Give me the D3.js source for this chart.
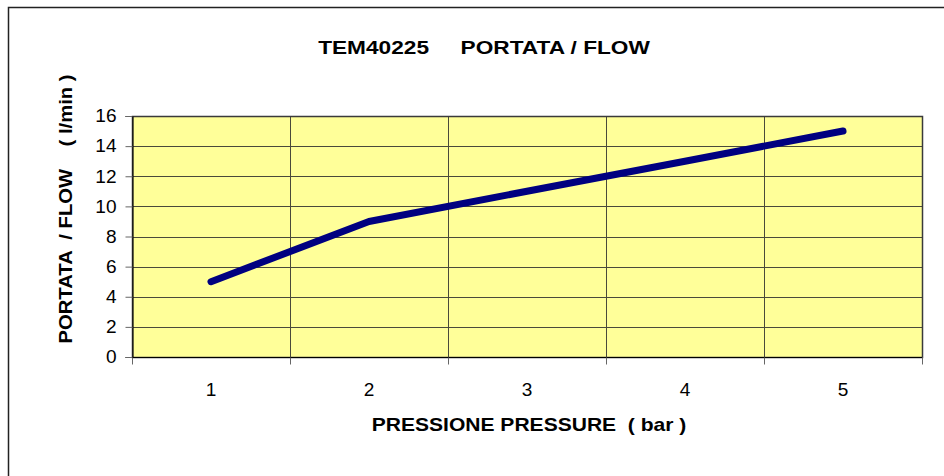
<!DOCTYPE html>
<html>
<head>
  <meta charset="utf-8">
  <title>TEM40225 PORTATA / FLOW</title>
  <script src="https://d3js.org/d3.v7.min.js"></script>
  <style>
    body { margin: 0; background: #fff; }
    svg text { font-family: Arial, "Liberation Sans", sans-serif; fill: #000; }
  </style>
</head>
<body>
<div id="chart"></div>
<script>
  // data
  var pressure = ["1", "2", "3", "4", "5"];
  var flow = [5, 9, 11, 13, 15];
  var yTicks = [0, 2, 4, 6, 8, 10, 12, 14, 16];

  var width = 944, height = 476;
  var plot = { left: 132, top: 116, right: 922, bottom: 357 };

  var svg = d3.select("#chart").append("svg")
    .attr("width", width)
    .attr("height", height);

  // outer frame (runs off the right and bottom edges)
  svg.append("rect")
    .attr("x", 8.5).attr("y", 7.5)
    .attr("width", 960).attr("height", 480)
    .attr("fill", "none")
    .attr("stroke", "#222")
    .attr("stroke-width", 1.5);

  var x = d3.scaleBand()
    .domain(pressure)
    .range([plot.left, plot.right]);

  var y = d3.scaleLinear()
    .domain([0, 16])
    .range([plot.bottom, plot.top]);

  // plot background
  svg.append("rect")
    .attr("x", plot.left).attr("y", plot.top)
    .attr("width", plot.right - plot.left)
    .attr("height", plot.bottom - plot.top)
    .attr("fill", "#ffff99");

  // horizontal gridlines
  svg.append("g")
    .selectAll("line")
    .data(yTicks.filter(d => d > 0))
    .enter().append("line")
    .attr("x1", plot.left).attr("x2", plot.right)
    .attr("y1", d => Math.round(y(d)) + 0.5)
    .attr("y2", d => Math.round(y(d)) + 0.5)
    .attr("stroke", "#4a4a3a")
    .attr("stroke-width", 1);

  // vertical gridlines at category boundaries
  svg.append("g")
    .selectAll("line")
    .data(pressure.slice(1))
    .enter().append("line")
    .attr("x1", d => Math.round(x(d)) + 0.5)
    .attr("x2", d => Math.round(x(d)) + 0.5)
    .attr("y1", plot.top).attr("y2", plot.bottom)
    .attr("stroke", "#4a4a3a")
    .attr("stroke-width", 1);

  // plot border
  svg.append("rect")
    .attr("x", plot.left + 0.5).attr("y", plot.top + 0.5)
    .attr("width", plot.right - plot.left)
    .attr("height", plot.bottom - plot.top)
    .attr("fill", "none")
    .attr("stroke", "#3a3a3a")
    .attr("stroke-width", 1.5);

  // y axis
  var yAxis = svg.append("g")
    .attr("transform", "translate(" + (plot.left + 0.5) + ",0)")
    .call(d3.axisLeft(y).tickValues(yTicks).tickSize(7).tickPadding(8));
  yAxis.select(".domain").attr("stroke", "#000");
  yAxis.selectAll(".tick line").attr("stroke", "#666");
  yAxis.selectAll(".tick text")
    .attr("x", 0)
    .attr("transform", "translate(-16,0) scale(1.06,1)")
    .style("font-size", "18px");

  // x axis, ticks at band edges
  var xAxis = svg.append("g")
    .attr("transform", "translate(0," + (plot.bottom + 0.5) + ")");
  xAxis.append("line")
    .attr("x1", plot.left).attr("x2", plot.right)
    .attr("stroke", "#000");
  xAxis.selectAll(".edge")
    .data(pressure.concat(["end"]))
    .enter().append("line")
    .attr("class", "edge")
    .attr("x1", (d, i) => Math.round(i < pressure.length ? x(d) : x.range()[1]) + 0.5)
    .attr("x2", (d, i) => Math.round(i < pressure.length ? x(d) : x.range()[1]) + 0.5)
    .attr("y1", 0).attr("y2", 7)
    .attr("stroke", "#666");
  xAxis.selectAll("text")
    .data(pressure)
    .enter().append("text")
    .attr("transform", d => "translate(" + (x(d) + x.bandwidth() / 2) + ",38) scale(1.06,1)")
    .attr("text-anchor", "middle")
    .style("font-size", "18px")
    .text(d => d);

  // flow line
  var line = d3.line()
    .x((d, i) => x(pressure[i]) + x.bandwidth() / 2)
    .y(d => y(d));

  svg.append("path")
    .datum(flow)
    .attr("d", line)
    .attr("fill", "none")
    .attr("stroke", "#000080")
    .attr("stroke-width", 7)
    .attr("stroke-linecap", "round")
    .attr("stroke-linejoin", "round");

  // titles
  svg.append("text")
    .attr("transform", "translate(484,54) scale(1.26,1)")
    .attr("text-anchor", "middle")
    .style("font-size", "18px")
    .style("font-weight", "bold")
    .style("white-space", "pre")
    .text("TEM40225     PORTATA / FLOW");

  svg.append("text")
    .attr("transform", "translate(529,431) scale(1.17,1)")
    .attr("text-anchor", "middle")
    .style("font-size", "18px")
    .style("font-weight", "bold")
    .style("white-space", "pre")
    .text("PRESSIONE PRESSURE  ( bar )");

  svg.append("text")
    .attr("transform", "translate(72,209) rotate(-90) scale(1.125,1)")
    .attr("text-anchor", "middle")
    .style("font-size", "18px")
    .style("font-weight", "bold")
    .style("white-space", "pre")
    .text("PORTATA  / FLOW    ( l/min )");
</script>
</body>
</html>
